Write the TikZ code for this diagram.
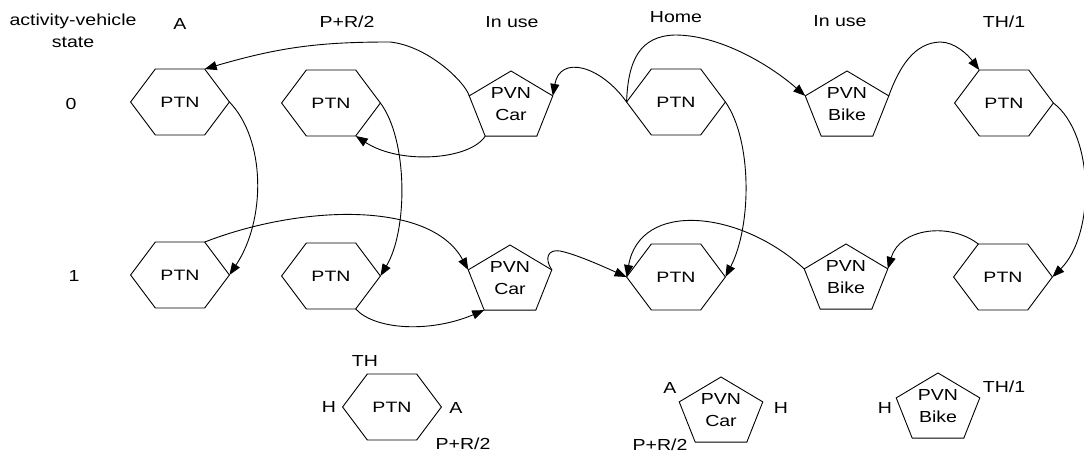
\documentclass[tikz,border=0pt]{standalone}
\usepackage{fontspec}
\setmainfont{Liberation Sans}
\usetikzlibrary{arrows.meta,shapes.geometric}
\tikzset{
  wide/.style={xscale=1.22},
  lbl/.style={wide,inner sep=0pt,align=center,font=\fontsize{16bp}{22bp}\selectfont},
  ptn/.style={lbl,regular polygon,regular polygon sides=6,draw,line width=.9bp,minimum size=81bp,outer sep=0pt,yscale=.94},
  pvn/.style={lbl,regular polygon,regular polygon sides=5,draw,line width=.9bp,minimum size=72bp,outer sep=0pt},
  ar/.style={-{Triangle[length=12bp,width=9bp]},line width=.9bp},
}
\begin{document}
\begin{tikzpicture}[x=1bp,y=-1bp]
  \useasboundingbox (0,0) rectangle (1084,459);
  % column and row headings
  \node[lbl] (hdstate) at (73,31) {activity-vehicle\\state};
  \node[lbl,anchor=base] (hdA) at (180,30) {A};
  \node[lbl,anchor=base] (hdpr) at (347,28) {P+R/2};
  \node[lbl,anchor=base] (hduse1) at (512,28) {In use};
  \node[lbl,anchor=base] (hdhome) at (676,23) {Home};
  \node[lbl,anchor=base] (hduse2) at (840,27) {In use};
  \node[lbl,anchor=base] (hdth) at (1004,28) {TH/1};
  \node[lbl,anchor=base] (row0) at (71,110) {0};
  \node[lbl,anchor=base] (row1) at (74,282) {1};

  % state 0
  \node[ptn] (a0) at (180,102) {PTN};
  \node[ptn] (pr0) at (331,103) {PTN};
  \node[pvn] (car0) at (511,107) {PVN\\Car\strut};
  \node[ptn] (home0) at (676,102) {PTN};
  \node[pvn] (bike0) at (847,107) {PVN\\Bike\strut};
  \node[ptn] (th0) at (1004,103) {PTN};
  % state 1
  \node[ptn] (a1) at (180,275) {PTN};
  \node[ptn] (pr1) at (331,276) {PTN};
  \node[pvn] (car1) at (510,281) {PVN\\Car\strut};
  \node[ptn] (home1) at (676,277) {PTN};
  \node[pvn] (bike1) at (846,280) {PVN\\Bike\strut};
  \node[ptn] (th1) at (1003,277) {PTN};

  % transitions
  \draw[ar] (car0.162) .. controls (465,82) and (428,46) .. (390,42)
            .. controls (320,42) and (280,47) .. (a0.60);
  \draw[ar] (a0.0) .. controls (266,140) and (266,220) .. (a1.0);
  \draw[ar] (car0.234) .. controls (470,160) and (400,165) .. (pr0.300);
  \draw[ar] (pr0.0) .. controls (408,140) and (408,230) .. (pr1.0);
  \draw[ar] (a1.60) .. controls (300,205) and (430,200) .. (car1.162);
  \draw[ar] (pr1.300) .. controls (375,330) and (430,333) .. (car1.234);
  \draw[ar] (car1.18) .. controls (544,258) and (548,249) .. (560,251)
            .. controls (575,254) and (600,265) .. (home1.180);
  \draw[ar] (bike1.162) .. controls (740,210) and (640,200) .. (home1.180);
  \draw[ar] (home0.0) .. controls (752,140) and (752,225) .. (home1.0);
  \draw[ar] (home0.180) .. controls (600,65) and (560,55) .. (car0.18);
  \draw[ar] (home0.180) .. controls (628,60) and (640,36) .. (675,35)
            .. controls (720,35) and (770,65) .. (bike0.162);
  \draw[ar] (bike0.18) .. controls (900,65) and (915,43) .. (940,42)
            .. controls (955,42) and (968,55) .. (th0.120);
  \draw[ar] (th0.0) .. controls (1095,135) and (1095,235) .. (th1.0);
  \draw[ar] (th1.120) .. controls (950,222) and (900,228) .. (bike1.18);

  % key
  \node[ptn] (kptn) at (392,407) {PTN};
  \node[lbl,anchor=base] (kth) at (365,367) {TH};
  \node[lbl,anchor=base] (kh) at (329,413) {H};
  \node[lbl,anchor=base] (ka) at (456,414) {A};
  \node[lbl,anchor=base] (kpr) at (463,449) {P+R/2};
  \node[pvn] (kcar) at (721,413) {PVN\\Car\strut};
  \node[lbl,anchor=base] (kcara) at (670,394) {A};
  \node[lbl,anchor=base] (kcarh) at (781,414) {H};
  \node[lbl,anchor=base] (kcarpr) at (660,450) {P+R/2};
  \node[pvn] (kbike) at (938,409) {PVN\\Bike\strut};
  \node[lbl,anchor=base] (kbikeh) at (885,414) {H};
  \node[lbl,anchor=base] (kbiketh) at (1004,393) {TH/1};
\end{tikzpicture}
\end{document}
